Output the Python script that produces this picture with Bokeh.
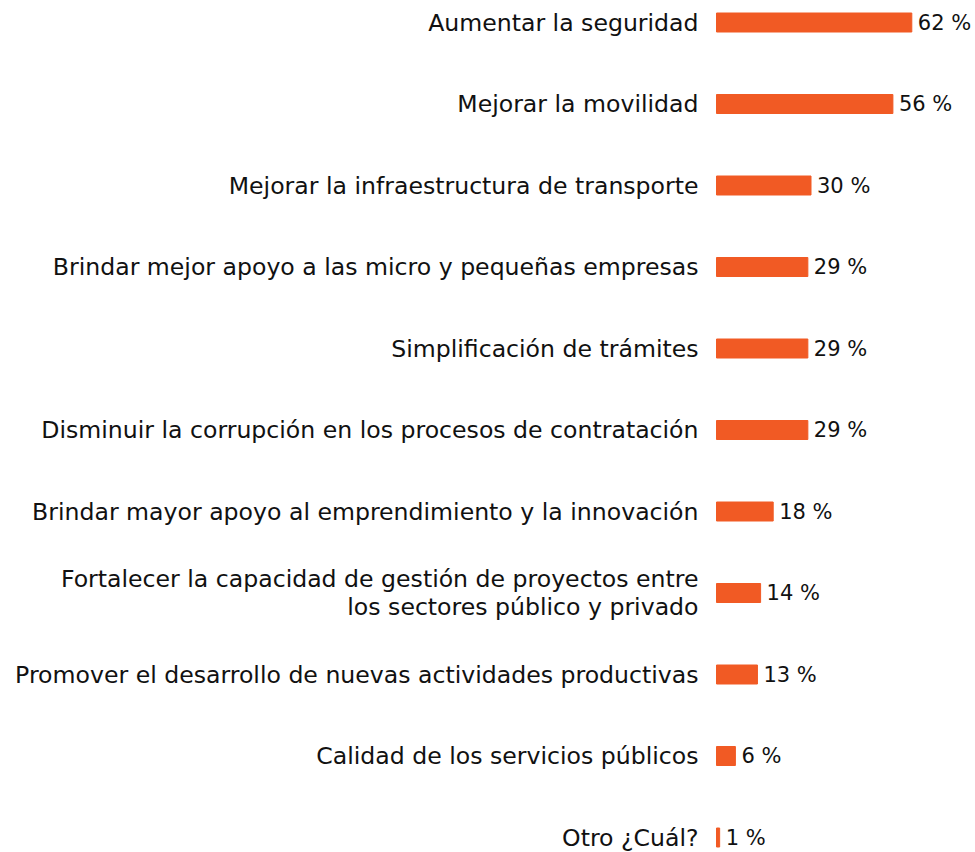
from bokeh.plotting import figure
from bokeh.models import ColumnDataSource, Range1d
from bokeh.embed import file_html
from bokeh.resources import INLINE
from bokeh.core.properties import value

categories = [
    "Aumentar la seguridad",
    "Mejorar la movilidad",
    "Mejorar la infraestructura de transporte",
    "Brindar mejor apoyo a las micro y pequeñas empresas",
    "Simplificación de trámites",
    "Disminuir la corrupción en los procesos de contratación",
    "Brindar mayor apoyo al emprendimiento y la innovación",
    "Fortalecer la capacidad de gestión de proyectos entre\nlos sectores público y privado",
    "Promover el desarrollo de nuevas actividades productivas",
    "Calidad de los servicios públicos",
    "Otro ¿Cuál?",
]
values = [62, 56, 30, 29, 29, 29, 18, 14, 13, 6, 1]

W, H = 975, 852
zero_px = 716
ppu = 3.15
row_px = 81.5
top_px = 22

n = len(categories)
ys = list(range(n))
src = ColumnDataSource(dict(
    y=ys, v=values, cat=categories,
    lbl=[f"{v} %" for v in values],
))

p = figure(width=W, height=H, output_backend="svg", toolbar_location=None,
           x_range=Range1d(-zero_px / ppu, (W - zero_px) / ppu),
           y_range=Range1d((n - 1) + (H - top_px - row_px * (n - 1)) / row_px,
                           -top_px / row_px),
           min_border=0, outline_line_color=None)
p.axis.visible = False
p.grid.visible = False

p.hbar(y="y", left=0, right="v", height=19 / row_px, color="#F15A24", source=src)

font = value("DejaVu Sans")
p.text(x=0, y="y", text="cat", x_offset=-18, text_align="right", text_baseline="middle",
       text_font=font, text_font_size="23.6px", text_color="#111111",
       text_line_height=0.98, source=src)
p.text(x="v", y="y", text="lbl", x_offset=6, text_align="left", text_baseline="middle",
       text_font=font, text_font_size="21px", text_color="#111111", source=src)

open("out.html", "w").write(file_html(p, INLINE))
